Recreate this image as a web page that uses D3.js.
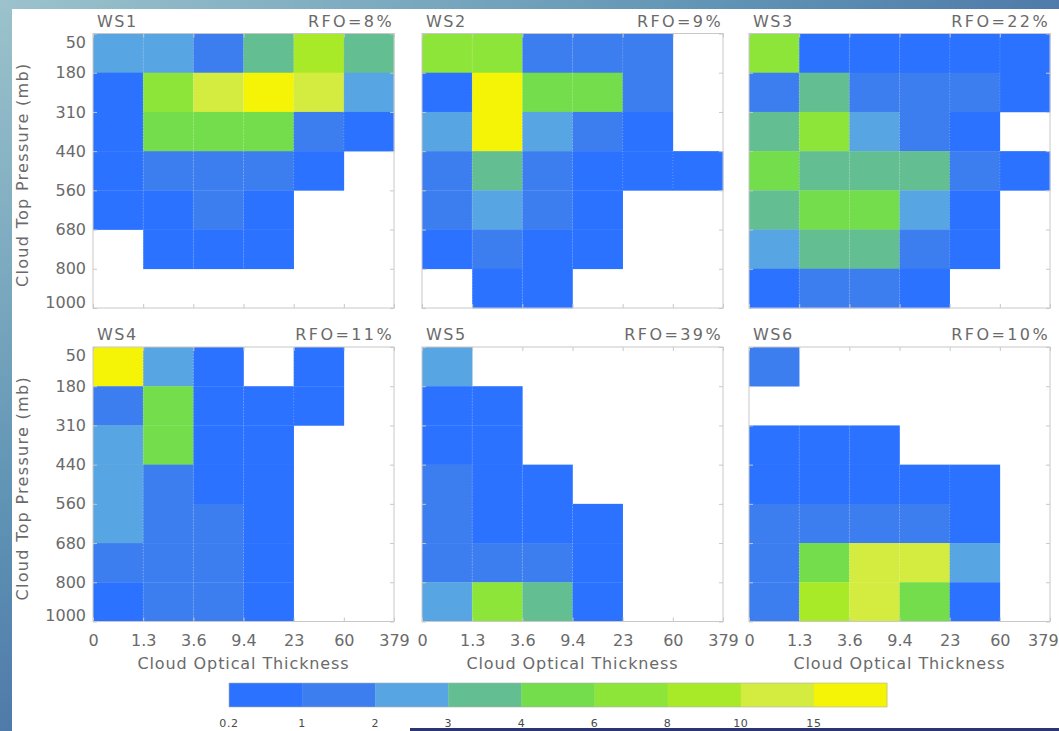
<!DOCTYPE html>
<html>
<head>
<meta charset="utf-8">
<script src="https://cdn.jsdelivr.net/npm/d3@7"></script>
<style>
body{margin:0;background:#fff;overflow:hidden;}
svg{display:block;}
text{font-family:"DejaVu Sans",sans-serif;}
</style>
</head>
<body>
<svg id="chart"></svg>
<script>
// bin edges used as tick labels
var tauLabels = ["0","1.3","3.6","9.4","23","60","379"]
var pcLabels = ["50","180","310","440","560","680","800","1000"]

var stateNames = ["WS1","WS2","WS3","WS4","WS5","WS6"]
var rfoValues = [8, 9, 22, 11, 39, 10]

// colorbar levels (%) and their colours
var levels = [0.2, 1, 2, 3, 4, 6, 8, 10, 15]
var levelColors = ["#2a72ff","#3c7ef0","#58a5e3","#63bf91","#74dd4b","#8ee53a","#a9ea28","#d4ec40","#f6f406"]

// frequency (%) per cell, rows 50mb -> 1000mb, columns thin -> thick, null = under 0.2
var ws1 = [
    [2.5, 2.5, 1.5, 3.5, 9, 3.5],
    [0.6, 7, 12, 17, 12, 2.5],
    [0.6, 5, 5, 5, 1.5, 0.6],
    [0.6, 1.5, 1.5, 1.5, 0.6, null],
    [0.6, 0.6, 1.5, 0.6, null, null],
    [null, 0.6, 0.6, 0.6, null, null],
    [null, null, null, null, null, null]
]
var ws2 = [
    [7, 7, 1.5, 1.5, 1.5, null],
    [0.6, 17, 5, 5, 1.5, null],
    [2.5, 17, 2.5, 1.5, 0.6, null],
    [1.5, 3.5, 1.5, 0.6, 0.6, 0.6],
    [1.5, 2.5, 1.5, 0.6, null, null],
    [0.6, 1.5, 0.6, 0.6, null, null],
    [null, 0.6, 0.6, null, null, null]
]
var ws3 = [
    [7, 0.6, 0.6, 0.6, 0.6, 0.6],
    [1.5, 3.5, 1.5, 1.5, 1.5, 0.6],
    [3.5, 7, 2.5, 1.5, 0.6, null],
    [5, 3.5, 3.5, 3.5, 1.5, 0.6],
    [3.5, 5, 5, 2.5, 0.6, null],
    [2.5, 3.5, 3.5, 1.5, 0.6, null],
    [0.6, 1.5, 1.5, 0.6, null, null]
]
var ws4 = [
    [17, 2.5, 0.6, null, 0.6, null],
    [1.5, 5, 0.6, 0.6, 0.6, null],
    [2.5, 5, 0.6, 0.6, null, null],
    [2.5, 1.5, 0.6, 0.6, null, null],
    [2.5, 1.5, 1.5, 0.6, null, null],
    [1.5, 1.5, 1.5, 0.6, null, null],
    [0.6, 1.5, 1.5, 0.6, null, null]
]
var ws5 = [
    [2.5, null, null, null, null, null],
    [0.6, 0.6, null, null, null, null],
    [0.6, 0.6, null, null, null, null],
    [1.5, 0.6, 0.6, null, null, null],
    [1.5, 0.6, 0.6, 0.6, null, null],
    [1.5, 1.5, 1.5, 0.6, null, null],
    [2.5, 7, 3.5, 0.6, null, null]
]
var ws6 = [
    [1.5, null, null, null, null, null],
    [null, null, null, null, null, null],
    [0.6, 0.6, 0.6, null, null, null],
    [0.6, 0.6, 0.6, 0.6, 0.6, null],
    [1.5, 1.5, 1.5, 1.5, 0.6, null],
    [1.5, 5, 12, 12, 2.5, null],
    [1.5, 9, 12, 5, 0.6, null]
]
var histograms = [ws1, ws2, ws3, ws4, ws5, ws6]

var screen = {width: 1059, height: 731}
var panelLefts = [93, 422, 749]
var panelTops = [33.5, 347]
var graph = {width: 301, height: 274.5}
var textColor = "#6a6a6a"

var colorScale = d3.scaleThreshold()
    .domain(levels.slice(1))
    .range(levelColors)

var svg = d3.select("#chart")
    .attr("width", screen.width)
    .attr("height", screen.height)

var drawBackground = function()
{
    var defs = svg.append("defs")
    var grad = defs.append("linearGradient")
        .attr("id", "sea")
        .attr("x1", 0).attr("y1", 0).attr("x2", 1).attr("y2", 1)
    grad.append("stop").attr("offset", 0).attr("stop-color", "#9cc3cc")
    grad.append("stop").attr("offset", 0.35).attr("stop-color", "#5f93b4")
    grad.append("stop").attr("offset", 0.7).attr("stop-color", "#3a5a9c")
    grad.append("stop").attr("offset", 1).attr("stop-color", "#283a86")

    svg.append("rect")
        .attr("width", screen.width)
        .attr("height", screen.height)
        .attr("fill", "url(#sea)")

    svg.append("rect")
        .attr("x", 12)
        .attr("y", 9)
        .attr("width", screen.width - 12)
        .attr("height", screen.height - 9)
        .attr("fill", "white")

    svg.append("rect")
        .attr("x", 410)
        .attr("y", 728)
        .attr("width", screen.width - 410)
        .attr("height", 3)
        .attr("fill", "#2b3572")
}

var drawPanel = function(k)
{
    var col = k % 3
    var row = Math.floor(k / 3)
    var data = histograms[k]

    var target = svg.append("g")
        .attr("transform", "translate(" + panelLefts[col] + "," + panelTops[row] + ")")

    var xScale = d3.scaleLinear()
        .domain([0, tauLabels.length - 1])
        .range([0, graph.width])

    var yScale = d3.scaleLinear()
        .domain([0, pcLabels.length - 1])
        .range([0, graph.height])

    var cells = []
    data.forEach(function(r, i)
    {
        r.forEach(function(v, j)
        {
            if (v != null && v >= levels[0]) cells.push({row: i, col: j, value: v})
        })
    })

    target.selectAll("rect.cell")
        .data(cells)
        .enter()
        .append("rect")
        .attr("class", "cell")
        .attr("x", function(d) { return xScale(d.col) })
        .attr("y", function(d) { return yScale(d.row) })
        .attr("width", function(d) { return xScale(d.col + 1) - xScale(d.col) + 0.3 })
        .attr("height", function(d) { return yScale(d.row + 1) - yScale(d.row) + 0.3 })
        .attr("fill", function(d) { return colorScale(d.value) })

    // faint dotted seams between cells
    target.selectAll("line.seam")
        .data(cells.filter(function(d) { return d.col > 0 }))
        .enter()
        .append("line")
        .attr("x1", function(d) { return xScale(d.col) })
        .attr("x2", function(d) { return xScale(d.col) })
        .attr("y1", function(d) { return yScale(d.row) })
        .attr("y2", function(d) { return yScale(d.row + 1) })
        .attr("stroke", "rgba(255,255,255,0.3)")
        .attr("stroke-dasharray", "1,2")

    target.append("rect")
        .attr("width", graph.width)
        .attr("height", graph.height)
        .attr("fill", "none")
        .attr("stroke", "#c8c8c8")
        .attr("stroke-width", 1)

    var xAxis = d3.axisBottom(xScale)
        .tickValues(d3.range(tauLabels.length))
        .tickFormat(function(i) { return row == 1 ? tauLabels[i] : "" })
        .tickSize(-4)
        .tickPadding(13)

    var xTop = d3.axisTop(xScale)
        .tickValues(d3.range(tauLabels.length))
        .tickFormat("")
        .tickSize(-4)

    var yAxis = d3.axisLeft(yScale)
        .tickValues(d3.range(pcLabels.length))
        .tickFormat(function(i) { return col == 0 ? pcLabels[i] : "" })
        .tickSize(-4)
        .tickPadding(7)

    var yRight = d3.axisRight(yScale)
        .tickValues(d3.range(pcLabels.length))
        .tickFormat("")
        .tickSize(-4)

    var gx = target.append("g")
        .attr("transform", "translate(0," + graph.height + ")")
        .call(xAxis)
    target.append("g").call(xTop)
    var gy = target.append("g").call(yAxis)
    target.append("g")
        .attr("transform", "translate(" + graph.width + ",0)")
        .call(yRight)

    target.selectAll(".domain").remove()
    target.selectAll(".tick line").attr("stroke", "#c8c8c8")
    target.selectAll(".tick text")
        .attr("fill", textColor)
        .style("font-size", "16px")
        .style("font-family", "DejaVu Sans, sans-serif")

    // the last label of the right-hand panel runs into the page edge
    if (col == 2)
    {
        gx.selectAll(".tick text")
            .attr("dx", function(i) { return i == tauLabels.length - 1 ? "-0.45em" : 0 })
    }

    // IDL nudges the end labels inside the axis range
    gy.selectAll(".tick text")
        .attr("dy", function(i)
        {
            if (i == 0) return "0.85em"
            if (i == pcLabels.length - 1) return "-0.05em"
            return "0.32em"
        })

    target.append("text")
        .text(stateNames[k])
        .attr("x", 4)
        .attr("y", -7)
        .attr("fill", textColor)
        .style("font-size", "16px")
        .style("letter-spacing", "1.5px")

    target.append("text")
        .text("RFO=" + rfoValues[k] + "%")
        .attr("x", graph.width)
        .attr("y", -7)
        .attr("text-anchor", "end")
        .attr("fill", textColor)
        .style("font-size", "16px")
        .style("letter-spacing", "2.4px")

    if (row == 1)
    {
        target.append("text")
            .text("Cloud Optical Thickness")
            .attr("x", graph.width / 2)
            .attr("y", graph.height + 47)
            .attr("text-anchor", "middle")
            .attr("fill", textColor)
            .style("font-size", "16px")
            .style("letter-spacing", "0.9px")
    }
    if (col == 0)
    {
        target.append("g")
            .attr("transform", "translate(" + (22 - panelLefts[0]) + "," + (graph.height / 2 + 4) + ")")
            .append("text")
            .text("Cloud Top Pressure (mb)")
            .attr("text-anchor", "middle")
            .attr("dy", "0.35em")
            .attr("transform", "rotate(270)")
            .attr("fill", textColor)
            .style("font-size", "16px")
            .style("letter-spacing", "1.3px")
    }
}

var drawColorbar = function()
{
    var bar = {left: 229, right: 887, top: 683, height: 24}

    var barScale = d3.scaleBand()
        .domain(levels)
        .range([bar.left, bar.right])
        .padding(0)

    var g = svg.append("g")

    g.selectAll("rect")
        .data(levels)
        .enter()
        .append("rect")
        .attr("x", function(d) { return barScale(d) })
        .attr("y", bar.top)
        .attr("width", barScale.bandwidth() + 0.3)
        .attr("height", bar.height)
        .attr("fill", function(d) { return colorScale(d) })

    g.append("rect")
        .attr("x", bar.left)
        .attr("y", bar.top)
        .attr("width", bar.right - bar.left)
        .attr("height", bar.height)
        .attr("fill", "none")
        .attr("stroke", "#b0b0b0")
        .attr("stroke-width", 0.6)

    g.selectAll("text")
        .data(levels)
        .enter()
        .append("text")
        .text(function(d) { return d })
        .attr("x", function(d) { return barScale(d) })
        .attr("y", 727)
        .attr("text-anchor", "middle")
        .attr("fill", "#4a4a4a")
        .style("font-size", "11px")
        .style("letter-spacing", "0.6px")
}

drawBackground()
for (var k = 0; k < histograms.length; k++)
{
    drawPanel(k)
}
drawColorbar()
</script>
</body>
</html>
